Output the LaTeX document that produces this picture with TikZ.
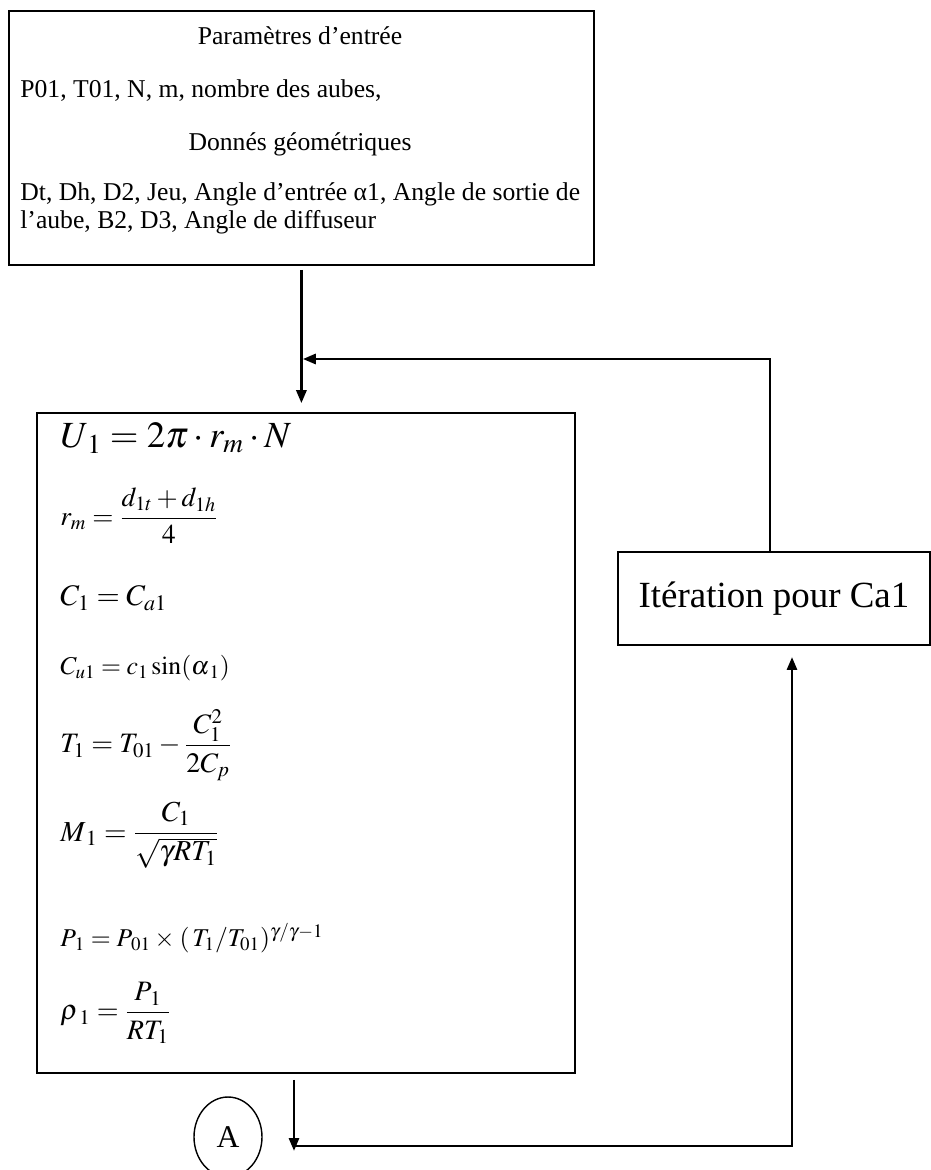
\documentclass[tikz,border=0pt]{standalone}
\usepackage{amsmath}
\usepackage{mathptmx}
\usepackage{fontspec}
\setmainfont{Liberation Serif}
\usepackage{tikz}
\usetikzlibrary{arrows.meta,positioning,calc,shapes.geometric}

\begin{document}
\begin{tikzpicture}[x=0.02cm,y=-0.02cm,
  box/.style={draw,line width=1.1pt,rectangle,inner sep=0pt},
  flow/.style={line width=1.6pt,-{Triangle[length=0.26cm,width=0.2cm]}},
  txt/.style={font=\fontsize{14.6}{17}\selectfont,inner sep=0pt},
  formula/.style={anchor=west,inner sep=0pt}]
  \useasboundingbox (0,0) rectangle (930,1170);

  \node[box,minimum width=11.7cm,minimum height=5.08cm,anchor=north west] (entree) at (8,10) {};
  \node[txt,anchor=base] (titre) at (300,44) {Paramètres d’entrée};
  \node[txt,anchor=base west] (param) at (20,97) {P01, T01, N, m, nombre des aubes,};
  \node[txt,anchor=base] (geo) at (300,150) {Donnés géométriques};
  \node[txt,anchor=base west] (dims) at (20,200) {Dt, Dh, D2, Jeu, Angle d’entrée α1, Angle de sortie de};
  \node[txt,anchor=base west] (dimsb) at (20,228) {l’aube, B2, D3, Angle de diffuseur};

  \node[box,minimum width=10.76cm,minimum height=13.2cm,anchor=north west] (calcul) at (36,412) {};
  \node[formula,font=\fontsize{21}{25}\selectfont] (u1) at (60,438) {$U_{\mkern2mu1} = 2\pi\cdot r_m\cdot N$};
  \node[formula,font=\fontsize{15.5}{18}\selectfont] (rm) at (60,516) {$r_m = \dfrac{d_{1t}+d_{1h}}{4}$};
  \node[formula,font=\fontsize{17}{20}\selectfont] (c1) at (60,598) {$C_1 = C_{a1}$};
  \node[formula,font=\fontsize{14.6}{17}\selectfont] (cu1) at (60,668) {$C_{u1} = c_1\sin(\alpha_{\mkern2mu1})$};
  \node[formula,font=\fontsize{16}{19}\selectfont] (t1) at (60,745) {$T_1 = T_{01} - \dfrac{C_1^2}{2C_p}$};
  \node[formula,font=\fontsize{16.5}{19}\selectfont] (m1) at (60,835) {$M_{\mkern2mu1} = \dfrac{C_1}{\sqrt{\gamma R T_1}}$};
  \node[formula,font=\fontsize{14.6}{17}\selectfont] (p1) at (60,938) {$P_{\mkern2mu1} = P_{\mkern2mu01}\times\mkern1mu(\mkern2mu T_1/T_{01})^{\gamma/\gamma-1}$};
  \node[formula,font=\fontsize{16}{19}\selectfont] (rho1) at (60,1013) {$\rho_{\mkern3mu1} = \dfrac{P_{\mkern2mu1}}{RT_1}$};

  \node[box,minimum width=6.24cm,minimum height=1.86cm,anchor=north west,
        font=\fontsize{21}{25}\selectfont] (iter) at (617,551) {Itération pour Ca1};
  \node[draw,ellipse,line width=0.8pt,minimum width=1.36cm,minimum height=1.6cm,inner sep=0pt,
        font=\fontsize{18}{21}\selectfont] (conA) at (228,1137) {A};

  \coordinate (retour) at (770,359);
  \coordinate (bas) at (294,1151);
  \coordinate (coin) at (792,1146);

  \draw[flow,shorten <=2.3pt,shorten >=5pt] (entree.south) -- (entree.south |- calcul.north);
  \draw[flow,shorten >=0.8pt] (iter.north -| retour) -- (retour) -- (retour -| entree.south);
  \draw[flow,shorten <=3.4pt] (calcul.south -| bas) -- (bas);
  \draw[flow,shorten >=6.3pt] (coin -| bas) -- (coin) -- (iter.south -| coin);
\end{tikzpicture}
\end{document}
